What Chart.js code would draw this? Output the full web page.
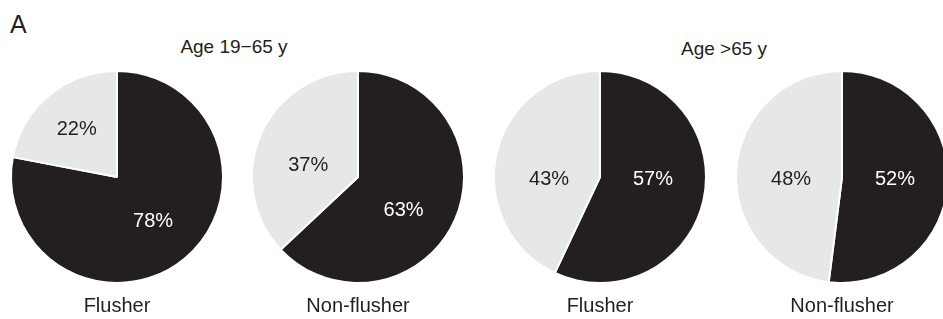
<!DOCTYPE html>
<html>
<head>
<meta charset="utf-8">
<script src="https://cdn.jsdelivr.net/npm/chart.js@4.4.0/dist/chart.umd.min.js"></script>
<style>
  html, body { margin: 0; padding: 0; background: #fff; overflow: hidden; }
  #wrap { position: relative; width: 943px; height: 319px; overflow: hidden; font-family: "Liberation Sans", Arial, sans-serif; color: #231f20; }
  .txt { position: absolute; white-space: nowrap; transform: translate(-50%, -50%); }
  canvas { position: absolute; }
</style>
</head>
<body>
<div id="wrap">
  <div class="txt" style="left:10px;top:24px;transform:translate(0,-50%);font-size:25px;">A</div>
</div>
<script>
// data
const panelLetter = 'A';
const groupTitles = ['Age 19\u221265 y', 'Age >65 y'];
const pieLabels = ['Flusher', 'Non-flusher', 'Flusher', 'Non-flusher'];
const pieGroup = [0, 0, 1, 1];
const darkShare = [78, 63, 57, 52];
const lightShare = [22, 37, 43, 48];

// layout / style
const pieCenters = [117, 358, 600, 842];
const groupTitlePos = [[234, 47], [724, 49]];
// label anchors as fractions of radius: [dark dx, dark dy, light dx, light dy]
const labelAnchors = [
  [0.34, 0.41, -0.38, -0.46],
  [0.43, 0.31, -0.47, -0.12],
  [0.50, 0.01, -0.48, 0.01],
  [0.50, 0.01, -0.48, 0.01]
];
const darkColor = '#231f20';
const lightColor = '#e6e7e8';
const fontFamily = '"Liberation Sans", Arial, sans-serif';

const wrap = document.getElementById('wrap');

groupTitles.forEach(function(t, i) {
  const d = document.createElement('div');
  d.className = 'txt';
  d.style.left = groupTitlePos[i][0] + 'px';
  d.style.top = groupTitlePos[i][1] + 'px';
  d.style.fontSize = '19px';
  d.textContent = t;
  wrap.appendChild(d);
});

const pctLabels = {
  id: 'pctLabels',
  afterDatasetsDraw: function(chart) {
    const ctx = chart.ctx;
    const meta = chart.getDatasetMeta(0);
    const anchor = chart.options.plugins.pctLabels.anchor;
    ctx.save();
    ctx.font = '20px ' + fontFamily;
    ctx.textAlign = 'center';
    ctx.textBaseline = 'middle';
    meta.data.forEach(function(arc, i) {
      const r = arc.outerRadius;
      const dx = anchor[i * 2] * r;
      const dy = anchor[i * 2 + 1] * r;
      ctx.fillStyle = i === 0 ? '#ffffff' : darkColor;
      ctx.fillText(chart.data.datasets[0].data[i] + '%', arc.x + dx, arc.y + dy + 1);
    });
    ctx.restore();
  }
};

const canvasW = 236;
const canvasH = 259;
const canvasTop = 60;

pieLabels.forEach(function(name, i) {
  const cv = document.createElement('canvas');
  cv.width = canvasW;
  cv.height = canvasH;
  cv.style.width = canvasW + 'px';
  cv.style.height = canvasH + 'px';
  cv.style.left = (pieCenters[i] - canvasW / 2) + 'px';
  cv.style.top = canvasTop + 'px';
  wrap.appendChild(cv);

  new Chart(cv.getContext('2d'), {
    type: 'pie',
    data: {
      labels: ['Yes', 'No'],
      datasets: [{
        data: [darkShare[i], lightShare[i]],
        backgroundColor: [darkColor, lightColor],
        borderColor: '#ffffff',
        borderWidth: 2,
        radius: 106
      }]
    },
    options: {
      responsive: false,
      animation: false,
      layout: { padding: 0 },
      plugins: {
        legend: { display: false },
        tooltip: { enabled: false },
        title: {
          display: true,
          position: 'bottom',
          text: name,
          color: darkColor,
          font: { family: fontFamily, size: 20, weight: 'normal' },
          padding: { top: 0, bottom: 1 }
        },
        pctLabels: { anchor: labelAnchors[i] }
      }
    },
    plugins: [pctLabels]
  });
});
</script>
</body>
</html>
